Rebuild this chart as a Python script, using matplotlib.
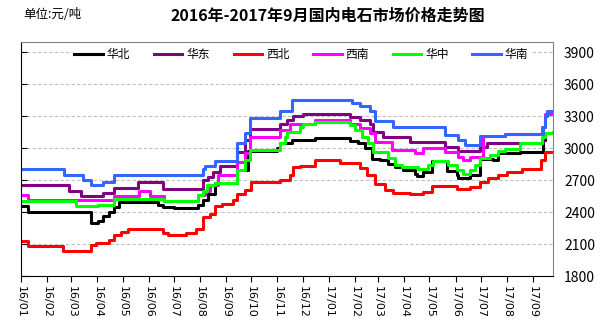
import pandas as pd
import matplotlib
matplotlib.use('Agg')
import matplotlib.pyplot as plt
import matplotlib.dates as mdates

plt.rcParams['font.family'] = ['Noto Sans CJK SC', 'DejaVu Sans']

# 数据: 每个地区的调价日期和价格 (元/吨)
huabei_dates = ['2016-01-01', '2016-01-09', '2016-03-24', '2016-04-02', '2016-04-08', '2016-04-15',
                '2016-04-21', '2016-04-27', '2016-06-12', '2016-06-18', '2016-07-01', '2016-07-30',
                '2016-08-05', '2016-08-11', '2016-08-19', '2016-09-14', '2016-09-27', '2016-11-01',
                '2016-11-04', '2016-11-18', '2016-12-16', '2017-01-27', '2017-02-05', '2017-02-13',
                '2017-02-22', '2017-03-03', '2017-03-13', '2017-03-21', '2017-03-31', '2017-04-14',
                '2017-04-16', '2017-04-23', '2017-05-04', '2017-05-22', '2017-06-03', '2017-06-04',
                '2017-06-18', '2017-06-30', '2017-07-16', '2017-07-22', '2017-08-17', '2017-09-13',
                '2017-09-16', '2017-09-25']
huabei_vals = [2455, 2400, 2300, 2320, 2365, 2400,
               2450, 2490, 2470, 2450, 2435, 2470,
               2510, 2570, 2670, 2795, 2970, 3000,
               3045, 3075, 3090, 3070, 3045, 3000,
               2900, 2890, 2850, 2820, 2795, 2760,
               2735, 2780, 2875, 2785, 2745, 2715,
               2745, 2900, 2885, 2950, 2965, 3075,
               3140, 3140]

huadong_dates = ['2016-01-01', '2016-02-27', '2016-03-12', '2016-04-08', '2016-04-21', '2016-05-19',
                 '2016-06-18', '2016-08-05', '2016-08-11', '2016-08-16', '2016-08-25', '2016-09-14',
                 '2016-09-24', '2016-09-30', '2016-11-04', '2016-11-13', '2016-11-20', '2016-12-02',
                 '2017-01-27', '2017-02-07', '2017-02-19', '2017-02-23', '2017-03-07', '2017-04-08',
                 '2017-05-20', '2017-06-04', '2017-06-30', '2017-07-09', '2017-09-13', '2017-09-16',
                 '2017-09-25']
huadong_vals = [2650, 2600, 2555, 2575, 2630, 2680,
                2620, 2700, 2725, 2780, 2830, 2960,
                3075, 3175, 3230, 3260, 3300, 3320,
                3290, 3260, 3230, 3150, 3100, 3060,
                3010, 2970, 3010, 3050, 3100, 3140,
                3140]

xibei_dates = ['2016-01-01', '2016-01-09', '2016-02-20', '2016-03-24', '2016-03-30', '2016-04-15',
               '2016-04-21', '2016-04-29', '2016-05-07', '2016-06-18', '2016-06-24', '2016-07-15',
               '2016-07-27', '2016-08-05', '2016-08-13', '2016-08-19', '2016-08-27', '2016-09-09',
               '2016-09-14', '2016-09-24', '2016-10-01', '2016-11-04', '2016-11-16', '2016-11-20',
               '2016-11-28', '2016-12-16', '2017-01-15', '2017-02-07', '2017-02-16', '2017-02-25',
               '2017-03-09', '2017-03-19', '2017-04-08', '2017-04-23', '2017-05-04', '2017-06-03',
               '2017-06-18', '2017-06-30', '2017-07-10', '2017-07-22', '2017-08-01', '2017-08-19',
               '2017-09-11', '2017-09-16', '2017-09-25']
xibei_vals = [2130, 2080, 2035, 2090, 2105, 2135,
              2185, 2215, 2240, 2205, 2185, 2200,
              2245, 2355, 2380, 2455, 2480, 2510,
              2570, 2610, 2685, 2700, 2745, 2820,
              2830, 2890, 2860, 2810, 2745, 2660,
              2605, 2580, 2570, 2590, 2645, 2620,
              2635, 2685, 2715, 2745, 2780, 2800,
              2890, 2965, 2965]

xinan_dates = ['2016-01-01', '2016-01-09', '2016-04-21', '2016-05-20', '2016-06-03', '2016-06-19',
               '2016-07-30', '2016-08-07', '2016-08-13', '2016-08-22', '2016-09-14', '2016-09-24',
               '2016-09-30', '2016-11-04', '2016-11-16', '2016-12-16', '2017-01-27', '2017-02-07',
               '2017-02-19', '2017-02-25', '2017-03-17', '2017-04-14', '2017-04-23', '2017-05-20',
               '2017-06-04', '2017-06-10', '2017-06-18', '2017-07-04', '2017-07-30', '2017-09-12',
               '2017-09-15', '2017-09-25']
xinan_vals = [2560, 2510, 2550, 2600, 2550, 2500,
              2560, 2600, 2650, 2750, 2870, 2950,
              3105, 3170, 3225, 3260, 3230, 3185,
              3140, 3060, 2980, 2950, 3000, 2965,
              2920, 2890, 2920, 3110, 3130, 3200,
              3320, 3320]

huazhong_dates = ['2016-01-01', '2016-03-06', '2016-04-02', '2016-04-21', '2016-06-19', '2016-07-30',
                  '2016-08-05', '2016-08-09', '2016-08-19', '2016-09-14', '2016-09-24', '2016-09-30',
                  '2016-11-04', '2016-11-10', '2016-11-13', '2016-11-28', '2016-12-02', '2016-12-16',
                  '2017-01-27', '2017-02-01', '2017-02-10', '2017-02-17', '2017-02-23', '2017-03-13',
                  '2017-03-21', '2017-03-29', '2017-04-17', '2017-04-29', '2017-05-05', '2017-05-23',
                  '2017-06-03', '2017-06-10', '2017-06-18', '2017-06-24', '2017-06-30', '2017-07-12',
                  '2017-07-22', '2017-07-30', '2017-08-17', '2017-09-12', '2017-09-16', '2017-09-25']
huazhong_vals = [2500, 2455, 2470, 2520, 2505, 2560,
                 2600, 2650, 2675, 2795, 2890, 2985,
                 3045, 3105, 3150, 3195, 3230, 3240,
                 3220, 3170, 3105, 3045, 2960, 2905,
                 2840, 2825, 2800, 2840, 2880, 2840,
                 2795, 2760, 2795, 2840, 2905, 2935,
                 2970, 2990, 3045, 3100, 3145, 3150]

huanan_dates = ['2016-01-01', '2016-02-21', '2016-03-15', '2016-03-24', '2016-04-08', '2016-04-21',
                '2016-08-05', '2016-08-07', '2016-08-19', '2016-09-14', '2016-09-24', '2016-09-30',
                '2016-11-04', '2016-11-18', '2017-01-29', '2017-02-07', '2017-02-19', '2017-02-25',
                '2017-03-19', '2017-05-20', '2017-06-04', '2017-06-12', '2017-06-30', '2017-07-30',
                '2017-09-13', '2017-09-16', '2017-09-18', '2017-09-25']
huanan_vals = [2800, 2750, 2700, 2650, 2680, 2750,
               2800, 2830, 2880, 3050, 3140, 3280,
               3350, 3450, 3420, 3390, 3350, 3250,
               3200, 3120, 3080, 3030, 3110, 3130,
               3200, 3300, 3350, 3350]

series = [
    ('华北', huabei_dates, huabei_vals, '#000000'),
    ('华东', huadong_dates, huadong_vals, '#800080'),
    ('西北', xibei_dates, xibei_vals, '#ff0000'),
    ('西南', xinan_dates, xinan_vals, '#ff00ff'),
    ('华中', huazhong_dates, huazhong_vals, '#00ff00'),
    ('华南', huanan_dates, huanan_vals, '#3366ff'),
]

fig = plt.figure(figsize=(6.02, 3.27), dpi=100)
ax = fig.add_axes([21 / 602, 1 - 276 / 327, 532 / 602, 234 / 327])

for nombre, fechas, valores, color in series:
    ax.step(pd.to_datetime(fechas), valores, where='post', color=color, lw=2.2, label=nombre)

ax.set_xlim(pd.Timestamp('2016-01-01'), pd.Timestamp('2017-09-25'))
ax.set_ylim(1800, 3995)
ax.set_yticks(range(1800, 4000, 300))
ax.yaxis.grid(True, linestyle=(0, (3, 2)), color='#c0c0c0', lw=0.8)
ax.set_axisbelow(True)

ax.xaxis.set_major_locator(mdates.MonthLocator())
ax.xaxis.set_major_formatter(mdates.DateFormatter('%y/%m'))
plt.setp(ax.get_xticklabels(), rotation=270, fontsize=8, family='DejaVu Sans')
plt.setp(ax.get_yticklabels(), fontsize=8, family='DejaVu Sans')
ax.tick_params(axis='x', direction='out', length=4, pad=3)
ax.tick_params(axis='y', left=True, right=False, labelleft=False, labelright=True,
               direction='in', length=4, pad=8)

for lado in ['top', 'right']:
    ax.spines[lado].set_color('#808080')
ax.spines['left'].set_color('black')
ax.spines['bottom'].set_color('black')

leg = ax.legend(ncol=6, loc='center', bbox_to_anchor=(0.527, 0.945), fontsize=8.5,
                handlelength=2.4, handletextpad=0.35, columnspacing=2.0,
                frameon=True, fancybox=False, borderpad=0.2)
leg.get_frame().set_facecolor('white')
leg.get_frame().set_edgecolor('none')
leg.get_frame().set_alpha(1)

fig.text(0.545, 0.951, '2016年-2017年9月国内电石市场价格走势图', ha='center', va='center',
         fontsize=11.5, fontweight='bold')
fig.text(23 / 602, 0.957, '单位:元/吨', ha='left', va='center', fontsize=9)

plt.savefig('out.png', dpi=100)
